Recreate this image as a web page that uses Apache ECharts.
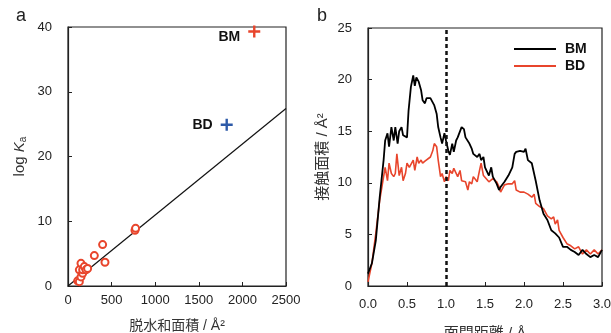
<!DOCTYPE html>
<html>
<head>
<meta charset="utf-8">
<script src="https://cdn.jsdelivr.net/npm/echarts@6/dist/echarts.min.js"></script>
<style>
  html, body { margin: 0; padding: 0; background: #fff; }
  #chart { width: 611px; height: 333px; }
</style>
</head>
<body>
<div id="chart"></div>
<script>
// 図a: 脱水和面積 vs log Ka
const smallArea = [111, 130, 149, 130, 149, 168, 168, 187, 206, 225, 302, 397, 424, 768, 775]
const smallLogK = [0.8, 0.67, 1.4, 2.5, 3.5, 1.96, 2.5, 3.0, 2.5, 2.7, 4.7, 6.4, 3.66, 8.6, 8.9]
const fitX = [0, 2500]
const fitY = [0, 27.4]
const bmPoint = [2136, 39.3]
const bdPoint = [1820, 24.9]

// 図b: 面間距離 vs 接触面積
const bmDist = [0.0, 0.05, 0.1, 0.15, 0.2, 0.22, 0.25, 0.27, 0.3, 0.33, 0.35, 0.38, 0.4, 0.43, 0.45, 0.5,
  0.52, 0.55, 0.58, 0.6, 0.62, 0.65, 0.68, 0.7, 0.73, 0.75, 0.8, 0.85, 0.88, 0.9, 0.93, 0.95, 0.98,
  1.0, 1.03, 1.05, 1.08, 1.1, 1.13, 1.15, 1.2, 1.23, 1.25, 1.3, 1.33, 1.35, 1.4, 1.43, 1.45, 1.48,
  1.5, 1.55, 1.58, 1.6, 1.65, 1.68, 1.7, 1.75, 1.8, 1.85, 1.88, 1.9, 1.95, 2.0, 2.02, 2.05, 2.1,
  2.15, 2.2, 2.25, 2.3, 2.35, 2.4, 2.45, 2.5, 2.55, 2.6, 2.65, 2.7, 2.75, 2.8, 2.85, 2.9, 2.95, 3.0]
const bmArea = [1.2, 2.2, 4.4, 8.6, 12.2, 14.1, 14.8, 13.5, 15.4, 14.1, 15.4, 13.8, 15.0, 15.4, 14.6, 14.4,
  17.0, 19.3, 20.4, 19.4, 20.2, 19.8, 19.0, 18.0, 17.7, 18.2, 18.2, 17.5, 16.7, 15.4, 14.4, 13.8, 14.8,
  14.1, 13.1, 12.7, 13.8, 13.0, 14.1, 14.4, 15.4, 15.2, 14.4, 13.8, 13.3, 12.8, 12.5, 12.8, 12.2, 12.5,
  11.5, 10.7, 11.5, 10.6, 9.9, 9.3, 9.6, 10.1, 10.7, 11.5, 12.8, 13.0, 13.1, 13.0, 13.3, 12.2, 11.9,
  10.2, 8.3, 7.0, 6.4, 5.4, 5.1, 4.7, 3.8, 3.8, 3.5, 3.3, 3.0, 3.5, 3.1, 2.8, 3.0, 2.8, 3.5]
const bdDist = [0.0, 0.05, 0.1, 0.15, 0.2, 0.22, 0.25, 0.27, 0.3, 0.33, 0.35, 0.37, 0.4, 0.43, 0.45, 0.48,
  0.5, 0.53, 0.55, 0.58, 0.6, 0.63, 0.65, 0.68, 0.7, 0.73, 0.75, 0.8, 0.83, 0.85, 0.88, 0.9, 0.93,
  0.95, 0.98, 1.0, 1.03, 1.05, 1.08, 1.1, 1.15, 1.18, 1.2, 1.25, 1.28, 1.3, 1.33, 1.35, 1.4, 1.43,
  1.45, 1.48, 1.5, 1.55, 1.6, 1.65, 1.68, 1.7, 1.75, 1.8, 1.85, 1.88, 1.9, 1.95, 2.0, 2.05, 2.1,
  2.13, 2.15, 2.2, 2.25, 2.3, 2.35, 2.38, 2.4, 2.43, 2.45, 2.5, 2.55, 2.6, 2.65, 2.7, 2.75, 2.8,
  2.85, 2.9, 2.95, 3.0]
const bdArea = [0.4, 2.2, 5.1, 8.3, 10.6, 11.5, 10.2, 11.9, 10.9, 10.6, 10.9, 12.8, 10.7, 11.5, 10.2, 10.9,
  11.9, 11.5, 11.6, 12.2, 11.2, 12.5, 11.9, 12.2, 11.9, 12.1, 12.2, 12.5, 13.1, 13.8, 13.5, 12.2, 10.6,
  10.9, 10.1, 10.6, 10.2, 11.2, 10.9, 11.4, 10.6, 11.2, 10.2, 10.1, 9.3, 10.1, 9.9, 10.6, 10.1, 11.2,
  11.9, 10.7, 10.6, 10.1, 10.4, 10.1, 9.6, 9.1, 9.8, 9.9, 9.9, 10.2, 9.3, 9.1, 9.1, 8.9, 8.6,
  8.9, 8.0, 7.7, 7.5, 6.8, 6.5, 6.7, 6.0, 6.4, 5.4, 4.7, 4.1, 3.9, 3.6, 3.8, 3.1, 3.5,
  3.1, 3.5, 3.1, 3.5]

const zip = (xs, ys) => xs.map((x, i) => [x, ys[i]])

const RED = '#e8452c'
const BLUE = '#2d5aa8'
const FONT = '"Liberation Sans", Arial, "Noto Sans CJK JP", sans-serif'
const PLUS = 'path://M4,0H6V4H10V6H6V10H4V6H0V4H4Z'

const axisCommon = {
  axisLine: { show: true, lineStyle: { color: '#222', width: 1.2 } },
  axisTick: { show: true, inside: true, length: 4, lineStyle: { color: '#222' } },
  splitLine: { show: false },
  axisLabel: { color: '#222', fontSize: 13, fontFamily: FONT },
  nameLocation: 'middle',
  nameTextStyle: { color: '#333', fontSize: 14, fontFamily: FONT }
}

const ptLabel = (text, dy) => ({
  show: true,
  position: 'left',
  distance: 8,
  offset: [0, dy],
  formatter: text,
  fontSize: 14,
  fontWeight: 'bold',
  color: '#111',
  fontFamily: FONT
})

const myChart = echarts.init(document.getElementById('chart'))

const option = {
  animation: false,
  backgroundColor: '#fff',
  title: [
    { text: 'a', left: 11, top: 2, textStyle: { fontSize: 18, fontWeight: 'normal', color: '#222', fontFamily: FONT } },
    { text: 'b', left: 312, top: 2, textStyle: { fontSize: 18, fontWeight: 'normal', color: '#222', fontFamily: FONT } }
  ],
  grid: [
    { left: 68, top: 27, width: 218, height: 259, show: true, borderColor: '#222', borderWidth: 1.2, outerBoundsMode: 'none' },
    { left: 368, top: 28, width: 234, height: 258, show: true, borderColor: '#222', borderWidth: 1.2, outerBoundsMode: 'none' }
  ],
  legend: {
    orient: 'vertical',
    left: 509,
    top: 37,
    icon: 'rect',
    itemWidth: 42,
    itemHeight: 2,
    itemGap: 3,
    data: ['BM', 'BD'],
    textStyle: { fontSize: 14, fontWeight: 'bold', color: '#111', fontFamily: FONT, padding: [0, 0, 0, 4] }
  },
  xAxis: [
    {
      ...axisCommon,
      gridIndex: 0,
      type: 'value',
      min: 0,
      max: 2500,
      interval: 500,
      name: '脱水和面積 / Å²',
      nameGap: 33,
      axisLabel: { ...axisCommon.axisLabel, margin: 8, formatter: (v) => String(v) }
    },
    {
      ...axisCommon,
      gridIndex: 1,
      type: 'value',
      min: 0,
      max: 3,
      interval: 0.5,
      name: '面間距離 / Å',
      nameGap: 40,
      nameTextStyle: { ...axisCommon.nameTextStyle, fontSize: 15 },
      axisLabel: { ...axisCommon.axisLabel, margin: 12, formatter: (v) => v.toFixed(1) }
    }
  ],
  yAxis: [
    {
      ...axisCommon,
      gridIndex: 0,
      type: 'value',
      min: 0,
      max: 40,
      interval: 10,
      name: '{n|log }{i|K}{s|a}',
      nameGap: 40,
      nameTextStyle: {
        ...axisCommon.nameTextStyle,
        rich: {
          n: { fontSize: 15, color: '#333', fontFamily: FONT },
          i: { fontSize: 15, color: '#333', fontStyle: 'italic', fontFamily: FONT },
          s: { fontSize: 10, color: '#333', fontFamily: FONT, padding: [6, 0, 0, 0] }
        }
      },
      axisLabel: { ...axisCommon.axisLabel, margin: 16 }
    },
    {
      ...axisCommon,
      gridIndex: 1,
      type: 'value',
      min: 0,
      max: 25,
      interval: 5,
      name: '接触面積 / Å²',
      nameGap: 38,
      nameTextStyle: { ...axisCommon.nameTextStyle, fontSize: 15 },
      axisLabel: { ...axisCommon.axisLabel, margin: 16 }
    }
  ],
  series: [
    {
      name: 'fit',
      type: 'line',
      xAxisIndex: 0,
      yAxisIndex: 0,
      data: zip(fitX, fitY),
      symbol: 'none',
      lineStyle: { color: '#111', width: 1.2 },
      z: 2
    },
    {
      name: 'points',
      type: 'scatter',
      xAxisIndex: 0,
      yAxisIndex: 0,
      data: zip(smallArea, smallLogK),
      symbol: 'circle',
      symbolSize: 7,
      itemStyle: { color: '#fff', borderColor: RED, borderWidth: 2, opacity: 1 },
      z: 3
    },
    {
      name: 'BM point',
      type: 'scatter',
      xAxisIndex: 0,
      yAxisIndex: 0,
      data: [bmPoint],
      symbol: PLUS,
      symbolSize: 12,
      itemStyle: { color: RED, opacity: 1 },
      label: ptLabel('BM', 6),
      z: 4
    },
    {
      name: 'BD point',
      type: 'scatter',
      xAxisIndex: 0,
      yAxisIndex: 0,
      data: [bdPoint],
      symbol: PLUS,
      symbolSize: 12,
      itemStyle: { color: BLUE, opacity: 1 },
      label: ptLabel('BD', 0),
      z: 4
    },
    {
      name: 'BM',
      type: 'line',
      xAxisIndex: 1,
      yAxisIndex: 1,
      data: zip(bmDist, bmArea),
      symbol: 'none',
      color: '#000',
      lineStyle: { color: '#000', width: 1.8 },
      z: 3,
      markLine: {
        silent: true,
        symbol: 'none',
        label: { show: false },
        lineStyle: { color: '#111', type: [4, 3], width: 2.5 },
        data: [{ xAxis: 1.0 }]
      }
    },
    {
      name: 'BD',
      type: 'line',
      xAxisIndex: 1,
      yAxisIndex: 1,
      data: zip(bdDist, bdArea),
      symbol: 'none',
      color: RED,
      lineStyle: { color: RED, width: 1.6 },
      z: 2
    }
  ]
}

myChart.setOption(option)
</script>
</body>
</html>
